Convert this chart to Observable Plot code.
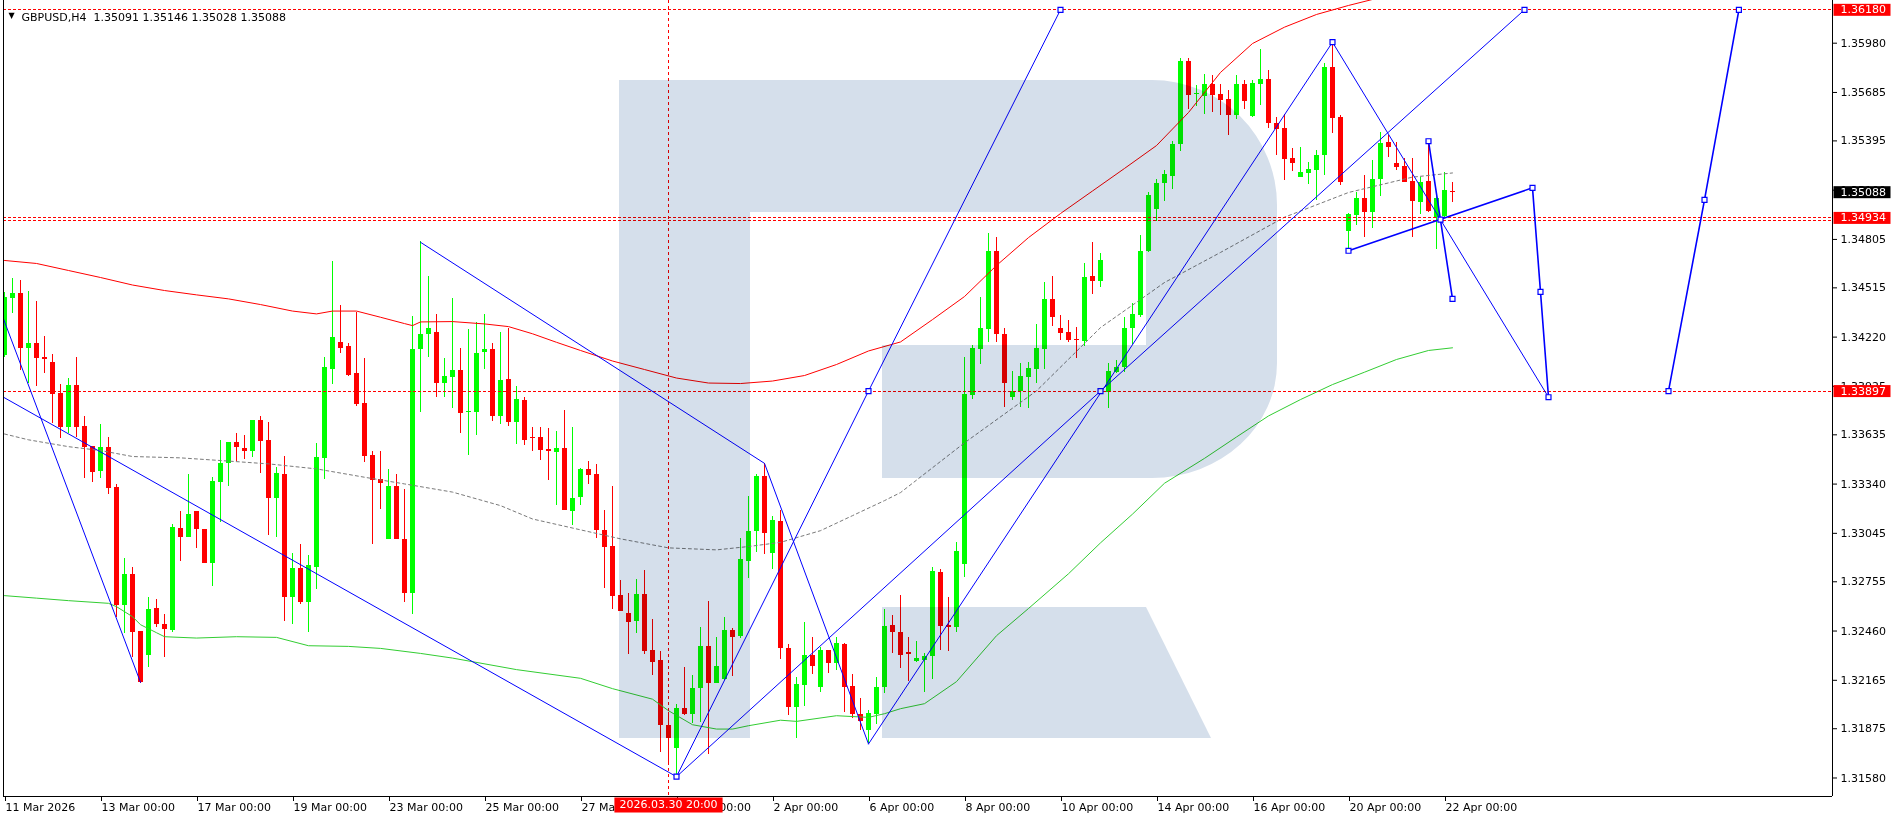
<!DOCTYPE html>
<html><head><meta charset="utf-8">
<script src="https://cdn.jsdelivr.net/npm/d3@7"></script>
<script src="https://cdn.jsdelivr.net/npm/@observablehq/plot@0.6"></script>
<style>
html,body{margin:0;padding:0;background:#fff;}
#wrap{position:relative;width:1896px;height:820px;overflow:hidden;background:#fff;}
#logo{position:absolute;left:0;top:0;mix-blend-mode:multiply;pointer-events:none;}
</style></head><body>
<div id="wrap"><div id="chart"></div>
<svg id="logo" width="1896" height="820" viewBox="0 0 1896 820">
<path fill="rgb(213,223,235)" d="M619,80 H1152 A125,125 0 0 1 1277,205 V363 A125,115 0 0 1 1152,478 H882 V345 H1146 V212 H750 V738 H619 Z"/>
<path fill="rgb(213,223,235)" d="M882,607 H1146 L1211,738 H882 Z"/>
</svg>
</div>
<script>
const symbol = "GBPUSD", timeframe = "H4";

const open = [1.34110,1.34453,1.34483,1.34153,1.34180,1.34099,1.34068,1.33882,1.33678,1.33930,
1.33684,1.33564,1.33417,1.33557,1.33319,1.32612,1.32798,1.32458,1.32313,1.32592,
1.32498,1.32462,1.33073,1.33018,1.33175,1.33066,1.32865,1.33347,1.33461,1.33587,
1.33551,1.33533,1.33718,1.33600,1.33251,1.33397,1.32662,1.32832,1.32632,1.32842,
1.33494,1.34028,1.34187,1.34163,1.34002,1.33822,1.33511,1.33369,1.33007,1.33325,
1.33007,1.32686,1.34144,1.34234,1.34247,1.33940,1.33980,1.34020,1.33772,1.33770,
1.34129,1.34146,1.33746,1.33966,1.33710,1.33840,1.33620,1.33620,1.33547,1.33530,
1.33554,1.33177,1.33261,1.33425,1.33397,1.33061,1.32966,1.32672,1.32568,1.32518,
1.32678,1.32343,1.32283,1.31897,1.31754,1.31999,1.31963,1.32113,1.32367,1.32147,
1.32167,1.32462,1.32428,1.32877,1.33057,1.33387,1.32922,1.33117,1.32353,1.32003,
1.32133,1.32313,1.32119,1.32343,1.32263,1.32379,1.32127,1.31959,1.31863,1.31963,
1.32119,1.32492,1.32450,1.32331,1.32278,1.32285,1.32308,1.32808,1.32492,1.32480,
1.32861,1.33868,1.34147,1.34266,1.34733,1.34237,1.33858,1.33897,1.33978,1.34026,
1.34147,1.34445,1.34271,1.34247,1.34208,1.34193,1.34583,1.34554,1.33886,1.34006,
1.34041,1.34271,1.34347,1.34734,1.34987,1.35142,1.35184,1.35374,1.35871,1.35671,
1.35663,1.35733,1.35673,1.35643,1.35547,1.35733,1.35541,1.35733,1.35763,1.35497,
1.35471,1.35291,1.35178,1.35202,1.35218,1.35308,1.35836,1.35537,1.34854,1.34950,
1.35050,1.34968,1.35162,1.35384,1.35258,1.35242,1.35152,1.35028,1.35152,1.34934,
1.34942,1.35091];
const high = [1.34489,1.34573,1.34559,1.34495,1.34433,1.34223,1.34116,1.33936,1.33972,1.34098,
1.33744,1.33564,1.33696,1.33617,1.33335,1.32892,1.32842,1.32458,1.32662,1.32648,
1.32562,1.33097,1.33175,1.33397,1.33175,1.33066,1.33381,1.33600,1.33587,1.33644,
1.33630,1.33718,1.33744,1.33706,1.33437,1.33505,1.32925,1.32977,1.32912,1.33581,
1.34098,1.34673,1.34409,1.34180,1.34369,1.34093,1.33533,1.33535,1.33427,1.33397,
1.33307,1.34343,1.34792,1.34583,1.34355,1.34092,1.34453,1.34150,1.34265,1.34307,
1.34355,1.34180,1.34246,1.34271,1.33924,1.33856,1.33680,1.33677,1.33674,1.33654,
1.33780,1.33680,1.33435,1.33475,1.33455,1.33181,1.33325,1.32762,1.32682,1.32768,
1.32822,1.32532,1.32337,1.31973,1.32023,1.32239,1.32193,1.32479,1.32636,1.32419,
1.32542,1.32476,1.33012,1.33265,1.33395,1.33461,1.33145,1.33181,1.32379,1.32183,
1.32512,1.32419,1.32363,1.32343,1.32419,1.32383,1.32199,1.32059,1.31987,1.32183,
1.32586,1.32552,1.32672,1.32420,1.32400,1.32325,1.32838,1.32828,1.32658,1.32992,
1.34098,1.34167,1.34455,1.34842,1.34819,1.34273,1.34014,1.34062,1.34071,1.34297,
1.34550,1.34583,1.34347,1.34317,1.34277,1.34662,1.34789,1.34721,1.34062,1.34082,
1.34340,1.34423,1.34826,1.35084,1.35165,1.35218,1.35393,1.35890,1.35890,1.35727,
1.35793,1.35787,1.35731,1.35697,1.35787,1.35757,1.35757,1.35943,1.35817,1.35533,
1.35551,1.35351,1.35357,1.35267,1.35338,1.35860,1.35986,1.35547,1.34962,1.35088,
1.35188,1.35278,1.35444,1.35427,1.35384,1.35288,1.35288,1.35178,1.35393,1.35078,
1.35204,1.35146];
const low = [1.34099,1.34359,1.34020,1.33940,1.33924,1.34004,1.33700,1.33611,1.33644,1.33620,
1.33375,1.33347,1.33375,1.33275,1.32542,1.32443,1.32299,1.32143,1.32243,1.32482,
1.32299,1.32452,1.32877,1.33018,1.32952,1.32862,1.32728,1.33111,1.33327,1.33476,
1.33487,1.33497,1.33405,1.33031,1.33021,1.32518,1.32502,1.32618,1.32452,1.32708,
1.33367,1.33936,1.34123,1.33984,1.33806,1.33470,1.32977,1.33187,1.33007,1.33007,
1.32632,1.32562,1.33770,1.34099,1.33860,1.33856,1.33790,1.33644,1.33511,1.33630,
1.34026,1.33716,1.33696,1.33684,1.33576,1.33570,1.33535,1.33481,1.33361,1.33211,
1.33181,1.33091,1.33211,1.33335,1.33015,1.32716,1.32588,1.32578,1.32319,1.32446,
1.32319,1.32193,1.31733,1.31654,1.31594,1.31953,1.31907,1.31913,1.31720,1.32147,
1.32163,1.32187,1.32413,1.32772,1.32928,1.32918,1.32826,1.32287,1.31953,1.31814,
1.32007,1.32197,1.32093,1.32207,1.32223,1.31973,1.31939,1.31863,1.31784,1.31899,
1.32087,1.32323,1.32235,1.32157,1.32271,1.32091,1.32170,1.32343,1.32337,1.32453,
1.32780,1.33846,1.34056,1.34190,1.34186,1.33798,1.33840,1.33798,1.33794,1.33944,
1.34026,1.34283,1.34202,1.34190,1.34093,1.34163,1.34475,1.34520,1.33794,1.34002,
1.34008,1.34175,1.34335,1.34727,1.34912,1.35033,1.35104,1.35333,1.35581,1.35601,
1.35553,1.35567,1.35547,1.35427,1.35521,1.35581,1.35537,1.35607,1.35467,1.35308,
1.35158,1.35214,1.35174,1.35134,1.35038,1.35188,1.35438,1.35128,1.34739,1.34888,
1.34815,1.34868,1.35064,1.35297,1.35218,1.35144,1.34818,1.34952,1.34968,1.34743,
1.34938,1.35028];
const close = [1.34459,1.34483,1.34153,1.34180,1.34093,1.34087,1.33878,1.33678,1.33930,1.33678,
1.33560,1.33411,1.33557,1.33315,1.32612,1.32798,1.32452,1.32149,1.32588,1.32498,
1.32468,1.33079,1.33018,1.33157,1.33066,1.32865,1.33355,1.33461,1.33587,1.33557,
1.33533,1.33718,1.33596,1.33251,1.33401,1.32662,1.32832,1.32628,1.32852,1.33497,
1.34038,1.34216,1.34153,1.33988,1.33816,1.33506,1.33361,1.33341,1.33325,1.33007,
1.32686,1.34146,1.34235,1.34271,1.33940,1.33984,1.34020,1.33764,1.33774,1.34123,
1.34146,1.33746,1.33960,1.33710,1.33846,1.33600,1.33614,1.33541,1.33536,1.33554,
1.33181,1.33251,1.33427,1.33391,1.33061,1.32961,1.32668,1.32578,1.32512,1.32678,
1.32338,1.32272,1.31893,1.31817,1.31999,1.31963,1.32113,1.32367,1.32147,1.32249,
1.32462,1.32422,1.32886,1.33057,1.33387,1.33042,1.33121,1.32353,1.32003,1.32139,
1.32313,1.32249,1.32343,1.32263,1.32383,1.32123,1.31963,1.31919,1.31969,1.32119,
1.32486,1.32449,1.32313,1.32319,1.32296,1.32308,1.32816,1.32485,1.32480,1.32935,
1.33876,1.34152,1.34271,1.34733,1.34238,1.33944,1.33897,1.33984,1.34032,1.34152,
1.34445,1.34335,1.34243,1.34202,1.34197,1.34577,1.34554,1.34676,1.34014,1.34041,
1.34271,1.34358,1.34734,1.35066,1.35142,1.35193,1.35374,1.35871,1.35667,1.35677,
1.35733,1.35667,1.35637,1.35547,1.35733,1.35631,1.35741,1.35763,1.35501,1.35463,
1.35284,1.35261,1.35206,1.35224,1.35308,1.35836,1.35531,1.35144,1.34954,1.35050,
1.34968,1.35164,1.35378,1.35357,1.35237,1.35148,1.35032,1.35144,1.34972,1.35048,
1.35098,1.35088];

const xTickBars = [0,12,24,36,48,60,72,84,96,108,120,132,144,156,168,180];
const xTickLabels = ["11 Mar 2026","13 Mar 00:00","17 Mar 00:00","19 Mar 00:00","23 Mar 00:00","25 Mar 00:00","27 Mar 00:00","31 Mar 00:00","2 Apr 00:00","6 Apr 00:00","8 Apr 00:00","10 Apr 00:00","14 Apr 00:00","16 Apr 00:00","20 Apr 00:00","22 Apr 00:00"];
const yTickValues = [1.35980,1.35685,1.35395,1.35100,1.34805,1.34515,1.34220,1.33925,1.33635,1.33340,1.33045,1.32755,1.32460,1.32165,1.31875,1.31580];

const maRedBar = [0,4,8,12,16,20,24,28,32,36,39,41,44,47,50,51,52,56,60,63,66,69,72,76,80,84,88,92,96,100,104,108,112,116,120,124,128,132,136,140,144,148,152,156,160,164,168,172,176,181];
const maRedVal = [1.34679,1.34661,1.34619,1.34577,1.34532,1.34499,1.34473,1.34449,1.34415,1.34376,1.34359,1.34376,1.34376,1.34339,1.34301,1.34289,1.34311,1.34313,1.34299,1.34283,1.34240,1.34189,1.34140,1.34077,1.34026,1.33975,1.33945,1.33942,1.33957,1.33990,1.34056,1.34137,1.34191,1.34325,1.34463,1.34649,1.34816,1.34960,1.35095,1.35230,1.35367,1.35565,1.35805,1.35978,1.36076,1.36152,1.36206,1.36254,1.36296,1.36332];
const maGreenBar = [0,4,8,13,14,16,17,19,20,24,29,34,38,43,47,52,56,64,72,76,81,83,86,89,91,93,97,99,104,108,110,112,115,119,124,128,133,137,141,145,150,154,158,162,166,170,174,178,181];
const maGreenVal = [1.32672,1.32657,1.32642,1.32626,1.32606,1.32546,1.32498,1.32450,1.32426,1.32418,1.32426,1.32422,1.32372,1.32368,1.32356,1.32326,1.32298,1.32229,1.32177,1.32115,1.32052,1.31983,1.31899,1.31873,1.31873,1.31893,1.31926,1.31919,1.31953,1.31943,1.31965,1.31995,1.32025,1.32157,1.32432,1.32595,1.32803,1.32988,1.33160,1.33345,1.33494,1.33622,1.33748,1.33846,1.33936,1.34010,1.34086,1.34140,1.34156];
const maGrayBar = [0,3,8,12,16,22,27,33,39,45,50,56,62,66,72,77,83,89,93,97,102,106,110,112,120,129,137,143,145,152,160,168,176,181];
const maGrayVal = [1.33640,1.33605,1.33564,1.33541,1.33505,1.33497,1.33481,1.33461,1.33431,1.33381,1.33341,1.33292,1.33211,1.33131,1.33066,1.33012,1.32958,1.32946,1.32966,1.32991,1.33061,1.33151,1.33241,1.33289,1.33587,1.33898,1.34277,1.34479,1.34547,1.34727,1.34938,1.35086,1.35178,1.35203];

const levels = [1.36180, 1.34934, 1.34916, 1.33897];
const levelTags = [1.36180, 1.34934, 1.33897];
const crosshairBar = 83, crosshairLabel = "2026.03.30 20:00";

const trendLines = [
  {w: 1, pts: [[-0.125,1.34329],[17,1.32153]]},
  {w: 1, pts: [[-0.125,1.33860],[84,1.31588]]},
  {w: 1, pts: [[52,1.34788],[95,1.33464],[108,1.31784]]},
  {w: 1, pts: [[84,1.31588],[108,1.33897],[132,1.36180]]},
  {w: 1, pts: [[84,1.31588],[137,1.33897],[190,1.36180]]},
  {w: 1, pts: [[108,1.31784],[166,1.35986]]},
  {w: 1, pts: [[166,1.35986],[193,1.33860]]},
  {w: 1.6, pts: [[168,1.34737],[191,1.35114]]},
  {w: 1.6, pts: [[191,1.35114],[192,1.34491],[193,1.33860]]},
  {w: 1.6, pts: [[208,1.33897],[212.5,1.35042],[216.8,1.36180]]},
  {w: 1.6, pts: [[178,1.35393],[181,1.34449]]}
];
const markerBars = [84,108,132,137,190,166,168,191,178,181,179.5,192,193,208,212.5,216.8];
const markerPrices = [1.31588,1.33897,1.36180,1.33897,1.36180,1.35986,1.34737,1.35114,1.35393,1.34449,1.34924,1.34491,1.33860,1.33897,1.35042,1.36180];

const xDomain = [-0.125, 228.5];
const yDomain = [1.314692, 1.362357];

const BULL = "#00ff00", BEAR = "#ff0000";
const n = close.length;
const bars = open.map((o, i) => ({i, o, h: high[i], l: low[i], c: close[i], up: close[i] >= o}));
const minBody = 0.00006;
const bodyLo = d => { const lo = Math.min(d.o, d.c), hi = Math.max(d.o, d.c); return hi - lo < minBody ? (lo + hi) / 2 - minBody / 2 : lo; };
const bodyHi = d => { const lo = Math.min(d.o, d.c), hi = Math.max(d.o, d.c); return hi - lo < minBody ? (lo + hi) / 2 + minBody / 2 : hi; };
const series = (b, v) => b.map((x, k) => ({x, y: v[k]}));
const trendPts = trendLines.flatMap((t, id) => t.pts.map(([x, y]) => ({id, x, y, w: t.w})));
const markers = markerBars.map((x, k) => ({x, y: markerPrices[k]}));
const f5 = d => d.toFixed(5);
const header = `${symbol},${timeframe}\u00a0\u00a0${f5(open[n-1])} ${f5(high[n-1])} ${f5(low[n-1])} ${f5(close[n-1])}`;

const chart = Plot.plot({
  width: 1896, height: 820,
  marginLeft: 3, marginRight: 64, marginTop: 0, marginBottom: 24,
  style: {fontFamily: "DejaVu Sans, sans-serif", fontSize: "11px", background: "white", color: "black"},
  x: {domain: xDomain, axis: null},
  y: {domain: yDomain, axis: null},
  color: {type: "identity"},
  marks: [
    Plot.ruleX(bars, {x: "i", y1: "l", y2: "h", stroke: d => d.up ? BULL : BEAR, shapeRendering: "crispEdges", clip: true}),
    Plot.rect(bars, {x1: d => d.i - 0.3125, x2: d => d.i + 0.3125, y1: bodyLo, y2: bodyHi, fill: d => d.up ? BULL : BEAR, shapeRendering: "crispEdges", clip: true}),
    Plot.line(series(maGrayBar, maGrayVal), {x: "x", y: "y", stroke: "#7a7a7a", strokeWidth: 1, strokeDasharray: "3,3", clip: true}),
    Plot.line(series(maGreenBar, maGreenVal), {x: "x", y: "y", stroke: "#32cd32", strokeWidth: 1, clip: true}),
    Plot.line(series(maRedBar, maRedVal), {x: "x", y: "y", stroke: "#ff0000", strokeWidth: 1, clip: true}),
    Plot.ruleY(levels, {stroke: "#ff0000", strokeDasharray: "3,2", shapeRendering: "crispEdges"}),
    Plot.ruleX([crosshairBar], {stroke: "#ff0000", strokeDasharray: "3,3", shapeRendering: "crispEdges"}),
    Plot.line(trendPts.filter(d => d.w === 1), {x: "x", y: "y", z: "id", stroke: "#0000ff", strokeWidth: 1, clip: true}),
    Plot.line(trendPts.filter(d => d.w !== 1), {x: "x", y: "y", z: "id", stroke: "#0000ff", strokeWidth: 1.6, clip: true}),
    Plot.dot(markers, {x: "x", y: "y", symbol: "square", r: 2.8, stroke: "#0000ff", fill: "white", strokeWidth: 1.2}),
    Plot.ruleX([xDomain[0], xDomain[1]], {stroke: "black", shapeRendering: "crispEdges"}),
    Plot.ruleY([yDomain[0]], {stroke: "black", shapeRendering: "crispEdges"}),
    Plot.axisY({anchor: "right", ticks: yTickValues, tickFormat: f5, tickSize: 4, tickPadding: 4, label: null, fontSize: 11}),
    Plot.axisX({anchor: "bottom", ticks: xTickBars, tickFormat: d => xTickLabels[xTickBars.indexOf(d)], tickSize: 5, tickPadding: 2, textAnchor: "start", dx: 1, label: null, fontSize: 11}),
    Plot.text(levelTags, {y: d => d, text: f5, frameAnchor: "right", dx: 8, textAnchor: "start", fill: "white"}),
    Plot.text([close[n-1]], {y: d => d, text: f5, frameAnchor: "right", dx: 8, textAnchor: "start", fill: "white"}),
    Plot.text([crosshairBar], {x: d => d, text: () => crosshairLabel, frameAnchor: "bottom", dy: 11, textAnchor: "middle", fill: "white"}),
    Plot.text([0], {frameAnchor: "top-left", dx: 8, dy: 12, text: () => "\u25BC", fontSize: 8, textAnchor: "middle", fill: "black"}),
    Plot.text([0], {frameAnchor: "top-left", dx: 18, dy: 13, text: () => header, textAnchor: "start", fill: "black"})
  ]
});
document.getElementById("chart").appendChild(chart);

// background boxes behind the tag texts that the library placed
const tagColor = new Map([...levelTags.map(p => [f5(p), "#ff0000"]), [f5(close[n-1]), "#000000"], [crosshairLabel, "#ff0000"]]);
chart.querySelectorAll("text").forEach(t => {
  const s = t.textContent;
  if (!tagColor.has(s)) return;
  const bb = t.getBBox();
  const isCross = s === crosshairLabel;
  const r = document.createElementNS("http://www.w3.org/2000/svg", "rect");
  r.setAttribute("x", isCross ? bb.x - 5 : bb.x - 7);
  r.setAttribute("y", isCross ? bb.y : bb.y + 0.5);
  r.setAttribute("width", isCross ? bb.width + 10 : 57);
  r.setAttribute("height", isCross ? bb.height + 2 : bb.height - 1);
  r.setAttribute("fill", tagColor.get(s));
  r.setAttribute("stroke", "none");
  const tr = t.getAttribute("transform");
  if (tr) r.setAttribute("transform", tr);
  t.parentNode.insertBefore(r, t);
});
</script>
</body></html>
